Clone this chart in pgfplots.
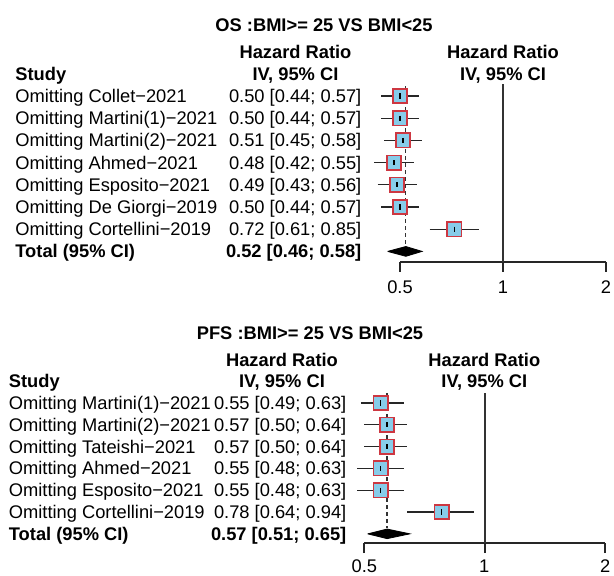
\documentclass[border=0pt]{standalone}
\usepackage{pgfplots}
\pgfplotsset{compat=1.18}
\usepackage{fontspec}
\setmainfont{Liberation Sans}
\definecolor{boxfill}{RGB}{135,204,233}
\definecolor{boxline}{RGB}{205,55,65}
\newcommand\fs{\fontsize{9.15}{11}\selectfont}

\begin{document}
\begin{tikzpicture}
\useasboundingbox (0pt,0pt) rectangle (307pt,-288pt);
\begin{scope}[x=0.5pt, y=-0.5pt]
\tikzset{lbl/.style={inner sep=0pt, font=\fs}, blbl/.style={inner sep=0pt, font=\fs\bfseries}}

% ---------------- OS panel text ----------------
\node[blbl, anchor=base] at (324,32) {OS :BMI>= 25 VS BMI<25};
\node[blbl, anchor=base] at (295.5,58.5) {Hazard Ratio};
\node[blbl, anchor=base] at (295.5,80.7) {IV, 95\% CI};
\node[blbl, anchor=base] at (503,58.5) {Hazard Ratio};
\node[blbl, anchor=base] at (503,80.7) {IV, 95\% CI};
\node[blbl, anchor=base west] at (15,80.7) {Study};
\foreach \s [count=\i from 0] in {Collet−2021, Martini(1)−2021, Martini(2)−2021, Ahmed−2021, Esposito−2021, De Giorgi−2019, Cortellini−2019}
  \node[lbl, anchor=base west] at (15,102.5+22.2*\i) {Omitting \s};
\foreach \s [count=\i from 0] in {0.50 [0.44; 0.57], 0.50 [0.44; 0.57], 0.51 [0.45; 0.58], 0.48 [0.42; 0.55], 0.49 [0.43; 0.56], 0.50 [0.44; 0.57], 0.72 [0.61; 0.85]}
  \node[lbl, anchor=base east] at (361.7,102.5+22.2*\i) {\s};
\node[blbl, anchor=base west] at (15,257.9) {Total (95\% CI)};
\node[blbl, anchor=base east] at (361.7,257.9) {0.52 [0.46; 0.58]};
\node[lbl, anchor=base] at (400,294) {0.5};
\node[lbl, anchor=base] at (503,294) {1};
\node[lbl, anchor=base] at (606,294) {2};

% ---------------- PFS panel text ----------------
\node[blbl, anchor=base] at (310,340) {PFS :BMI>= 25 VS BMI<25};
\node[blbl, anchor=base] at (282,366) {Hazard Ratio};
\node[blbl, anchor=base] at (282,387.7) {IV, 95\% CI};
\node[blbl, anchor=base] at (484.3,366) {Hazard Ratio};
\node[blbl, anchor=base] at (484.3,387.7) {IV, 95\% CI};
\node[blbl, anchor=base west] at (8.5,387.7) {Study};
\foreach \s [count=\i from 0] in {Martini(1)−2021, Martini(2)−2021, Tateishi−2021, Ahmed−2021, Esposito−2021, Cortellini−2019}
  \node[lbl, anchor=base west] at (8.5,409.5+21.8*\i) {Omitting \s};
\foreach \s [count=\i from 0] in {0.55 [0.49; 0.63], 0.57 [0.50; 0.64], 0.57 [0.50; 0.64], 0.55 [0.48; 0.63], 0.55 [0.48; 0.63], 0.78 [0.64; 0.94]}
  \node[lbl, anchor=base east] at (346.7,409.5+21.8*\i) {\s};
\node[blbl, anchor=base west] at (8.5,540.3) {Total (95\% CI)};
\node[blbl, anchor=base east] at (346.7,540.3) {0.57 [0.51; 0.65]};
\node[lbl, anchor=base] at (364.3,572.7) {0.5};
\node[lbl, anchor=base] at (484.3,572.7) {1};
\node[lbl, anchor=base] at (605.3,572.7) {2};
\end{scope}

% OS forest
\begin{axis}[scale only axis, xmode=log, xmin=0.5, xmax=2, clip=false,
  axis x line=bottom, axis y line=none,
  axis line style={-, line width=0.9pt, black!85},
  xtick={0.5,1,2}, xticklabels={},
  tick align=outside, major tick length=5pt,
  xtick style={line width=0.9pt, black!85},
  ytick=\empty, anchor=south west,
  at={(200pt,-131pt)}, width=103pt, height=89pt, ymin=-0.477, ymax=7.54]
\addplot[black!80, line width=0.7pt] coordinates {(1,-0.477) (1,7.54)};
\addplot[black!80, line width=0.6pt, dash pattern=on 2pt off 1.5pt] coordinates {(0.52,7.45) (0.52,0.25)};
\addplot[black!85, line width=0.65pt] coordinates {(0.44,7) (0.57,7)};
\addplot[black!85, line width=0.65pt] coordinates {(0.44,6) (0.57,6)};
\addplot[black!85, line width=0.65pt] coordinates {(0.45,5) (0.58,5)};
\addplot[black!85, line width=0.65pt] coordinates {(0.42,4) (0.55,4)};
\addplot[black!85, line width=0.65pt] coordinates {(0.43,3) (0.56,3)};
\addplot[black!85, line width=0.65pt] coordinates {(0.44,2) (0.57,2)};
\addplot[black!85, line width=0.65pt] coordinates {(0.61,1) (0.85,1)};
\addplot[only marks, mark=square*, mark size=3.6pt, mark options={fill=boxfill, draw=boxline, line width=0.8pt}]
  coordinates {(0.50,7) (0.50,6) (0.51,5) (0.48,4) (0.49,3) (0.50,2) (0.72,1)};
\addplot[only marks, mark=|, mark size=1.3pt, mark options={line width=0.6pt, black}]
  coordinates {(0.50,7) (0.50,6) (0.51,5) (0.48,4) (0.49,3) (0.50,2) (0.72,1)};
\addplot[fill=black, draw=black] coordinates {(0.46,0) (0.52,0.22) (0.58,0) (0.52,-0.22) (0.46,0)};
\end{axis}

% PFS forest
\begin{axis}[scale only axis, xmode=log, xmin=0.5, xmax=2, clip=false,
  axis x line=bottom, axis y line=none,
  axis line style={-, line width=0.9pt, black!85},
  xtick={0.5,1,2}, xticklabels={},
  tick align=outside, major tick length=5pt,
  xtick style={line width=0.9pt, black!85},
  ytick=\empty, anchor=south west,
  at={(182.15pt,-271.5pt)}, width=120.5pt, height=75pt, ymin=-0.42, ymax=6.46]
\addplot[black!80, line width=0.7pt] coordinates {(1,-0.42) (1,6.46)};
\addplot[black!80, line width=0.6pt, dash pattern=on 2pt off 1.5pt] coordinates {(0.57,6.45) (0.57,0.25)};
\addplot[black!85, line width=0.65pt] coordinates {(0.49,6) (0.63,6)};
\addplot[black!85, line width=0.65pt] coordinates {(0.50,5) (0.64,5)};
\addplot[black!85, line width=0.65pt] coordinates {(0.50,4) (0.64,4)};
\addplot[black!85, line width=0.65pt] coordinates {(0.48,3) (0.63,3)};
\addplot[black!85, line width=0.65pt] coordinates {(0.48,2) (0.63,2)};
\addplot[black!85, line width=0.65pt] coordinates {(0.64,1) (0.94,1)};
\addplot[only marks, mark=square*, mark size=3.6pt, mark options={fill=boxfill, draw=boxline, line width=0.8pt}]
  coordinates {(0.55,6) (0.57,5) (0.57,4) (0.55,3) (0.55,2) (0.78,1)};
\addplot[only marks, mark=|, mark size=1.3pt, mark options={line width=0.6pt, black}]
  coordinates {(0.55,6) (0.57,5) (0.57,4) (0.55,3) (0.55,2) (0.78,1)};
\addplot[fill=black, draw=black] coordinates {(0.51,0) (0.57,0.22) (0.65,0) (0.57,-0.22) (0.51,0)};
\end{axis}
\end{tikzpicture}
\end{document}
